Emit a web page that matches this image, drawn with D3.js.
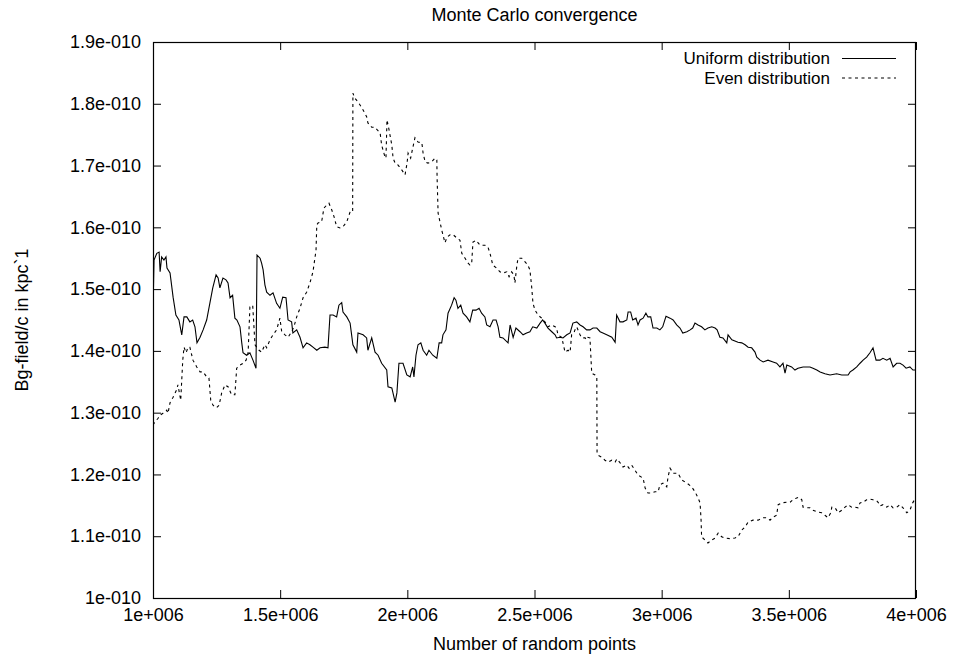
<!DOCTYPE html>
<html>
<head>
<meta charset="utf-8">
<title>Monte Carlo convergence</title>
<script src="https://cdn.jsdelivr.net/npm/d3@7/dist/d3.min.js"></script>
<style>
  html, body { margin: 0; padding: 0; background: #fff; }
  svg { display: block; }
  text { font-family: "Liberation Sans", Arial, Helvetica, sans-serif; fill: #000; }
</style>
</head>
<body>
<svg id="chart" width="956" height="657"></svg>
<script>
// Sample counts are in millions of random points, field values in units of 1e-10.
const X_UNIT = 1e6;
const Y_UNIT = 1e-10;

const seriesNames = ["Uniform distribution", "Even distribution"];

const uniformX = [1.000,1.004,1.015,1.024,1.028,1.034,1.043,1.051,1.055,1.067,1.079,1.090,1.102,1.113,1.122,1.133,1.145,1.156,1.165,1.173,1.185,1.197,1.211,1.224,1.235,1.248,1.256,1.263,1.275,1.287,1.295,1.303,1.313,1.322,1.330,1.342,1.349,1.354,1.368,1.381,1.393,1.405,1.409,1.421,1.427,1.433,1.440,1.447,1.460,1.472,1.486,1.499,1.510,1.523,1.531,1.545,1.550,1.565,1.578,1.590,1.604,1.617,1.629,1.644,1.657,1.676,1.688,1.696,1.708,1.722,1.731,1.742,1.747,1.762,1.775,1.786,1.801,1.806,1.826,1.840,1.845,1.860,1.873,1.885,1.899,1.919,1.924,1.939,1.952,1.959,1.967,1.983,1.998,2.011,2.021,2.026,2.034,2.042,2.053,2.062,2.076,2.085,2.100,2.116,2.125,2.135,2.140,2.152,2.160,2.174,2.184,2.191,2.199,2.210,2.219,2.233,2.246,2.257,2.270,2.282,2.292,2.305,2.312,2.325,2.337,2.349,2.357,2.364,2.376,2.396,2.404,2.416,2.427,2.443,2.455,2.469,2.482,2.493,2.509,2.522,2.532,2.541,2.553,2.568,2.581,2.587,2.600,2.612,2.627,2.640,2.651,2.666,2.679,2.691,2.705,2.718,2.730,2.745,2.758,2.769,2.784,2.804,2.817,2.823,2.836,2.848,2.863,2.868,2.878,2.886,2.899,2.907,2.915,2.927,2.938,2.946,2.957,2.966,2.981,2.993,3.004,3.017,3.033,3.045,3.059,3.072,3.083,3.099,3.112,3.122,3.131,3.143,3.157,3.170,3.182,3.197,3.210,3.218,3.229,3.241,3.256,3.261,3.276,3.288,3.300,3.315,3.328,3.340,3.354,3.367,3.374,3.387,3.399,3.418,3.438,3.452,3.465,3.477,3.485,3.492,3.511,3.524,3.536,3.556,3.583,3.595,3.610,3.623,3.642,3.662,3.688,3.708,3.733,3.741,3.752,3.767,3.780,3.792,3.806,3.819,3.831,3.843,3.858,3.870,3.885,3.898,3.910,3.924,3.937,3.949,3.961,3.976,3.988,4.000];
const uniformY = [1.463,1.547,1.558,1.560,1.528,1.552,1.547,1.552,1.534,1.526,1.487,1.458,1.450,1.426,1.455,1.455,1.447,1.450,1.439,1.413,1.422,1.434,1.450,1.478,1.502,1.523,1.518,1.502,1.518,1.515,1.510,1.486,1.490,1.453,1.450,1.439,1.413,1.397,1.393,1.397,1.385,1.372,1.555,1.550,1.542,1.531,1.507,1.495,1.490,1.494,1.477,1.469,1.487,1.486,1.450,1.447,1.429,1.434,1.422,1.405,1.413,1.410,1.406,1.401,1.405,1.406,1.405,1.458,1.458,1.455,1.474,1.478,1.463,1.455,1.445,1.410,1.398,1.429,1.426,1.421,1.401,1.421,1.398,1.393,1.380,1.369,1.342,1.340,1.317,1.332,1.380,1.380,1.361,1.358,1.374,1.358,1.393,1.410,1.413,1.401,1.393,1.401,1.393,1.388,1.413,1.413,1.426,1.434,1.461,1.474,1.486,1.482,1.469,1.474,1.461,1.455,1.447,1.466,1.466,1.469,1.461,1.455,1.442,1.439,1.450,1.450,1.439,1.422,1.421,1.413,1.442,1.422,1.437,1.431,1.426,1.429,1.431,1.439,1.437,1.445,1.450,1.445,1.437,1.431,1.426,1.421,1.422,1.421,1.426,1.429,1.445,1.447,1.442,1.439,1.434,1.434,1.437,1.437,1.431,1.429,1.426,1.422,1.414,1.458,1.447,1.447,1.450,1.463,1.463,1.450,1.453,1.442,1.450,1.453,1.461,1.455,1.455,1.437,1.437,1.434,1.439,1.456,1.453,1.450,1.442,1.437,1.429,1.431,1.434,1.437,1.445,1.442,1.439,1.434,1.437,1.439,1.437,1.434,1.422,1.421,1.413,1.426,1.418,1.416,1.414,1.413,1.410,1.406,1.405,1.398,1.390,1.385,1.382,1.385,1.382,1.380,1.374,1.380,1.364,1.377,1.374,1.369,1.372,1.374,1.374,1.372,1.369,1.366,1.363,1.361,1.363,1.361,1.361,1.366,1.369,1.374,1.380,1.385,1.390,1.397,1.405,1.385,1.385,1.388,1.385,1.388,1.374,1.380,1.380,1.377,1.372,1.374,1.369,1.369];

const evenX = [1.000,1.008,1.020,1.028,1.039,1.054,1.059,1.067,1.079,1.093,1.098,1.109,1.117,1.122,1.130,1.138,1.145,1.157,1.172,1.185,1.197,1.211,1.220,1.227,1.236,1.250,1.260,1.270,1.283,1.295,1.309,1.322,1.329,1.342,1.354,1.366,1.374,1.381,1.392,1.401,1.408,1.417,1.427,1.440,1.447,1.460,1.472,1.486,1.499,1.506,1.519,1.531,1.545,1.554,1.565,1.578,1.590,1.604,1.617,1.629,1.641,1.644,1.649,1.663,1.672,1.683,1.692,1.703,1.712,1.722,1.735,1.747,1.762,1.775,1.785,1.786,1.794,1.806,1.814,1.826,1.840,1.845,1.860,1.873,1.881,1.893,1.899,1.912,1.916,1.920,1.928,1.939,1.944,1.952,1.963,1.978,1.991,1.999,2.003,2.013,2.021,2.030,2.042,2.057,2.062,2.070,2.081,2.096,2.109,2.116,2.117,2.121,2.135,2.148,2.156,2.168,2.180,2.194,2.207,2.214,2.227,2.239,2.246,2.253,2.258,2.270,2.286,2.305,2.317,2.325,2.336,2.351,2.364,2.376,2.391,2.400,2.410,2.419,2.423,2.430,2.435,2.450,2.463,2.474,2.482,2.489,2.494,2.502,2.514,2.528,2.541,2.553,2.568,2.581,2.587,2.592,2.607,2.612,2.620,2.632,2.640,2.646,2.655,2.659,2.666,2.679,2.686,2.699,2.705,2.710,2.718,2.725,2.738,2.745,2.746,2.750,2.764,2.777,2.789,2.804,2.817,2.824,2.836,2.848,2.863,2.872,2.882,2.895,2.907,2.927,2.935,2.946,2.961,2.974,2.986,2.993,3.005,3.020,3.025,3.033,3.045,3.064,3.079,3.099,3.118,3.131,3.143,3.151,3.155,3.157,3.170,3.182,3.197,3.210,3.222,3.236,3.249,3.269,3.288,3.300,3.315,3.328,3.340,3.359,3.379,3.399,3.413,3.426,3.438,3.452,3.458,3.472,3.492,3.505,3.516,3.531,3.540,3.551,3.556,3.570,3.583,3.595,3.614,3.629,3.642,3.654,3.665,3.669,3.682,3.694,3.708,3.721,3.733,3.747,3.760,3.772,3.780,3.792,3.806,3.819,3.831,3.846,3.851,3.858,3.870,3.885,3.898,3.910,3.924,3.937,3.949,3.964,3.976,3.987,4.000];
const evenY = [1.280,1.285,1.291,1.296,1.299,1.304,1.299,1.316,1.325,1.337,1.345,1.320,1.385,1.406,1.397,1.406,1.406,1.385,1.374,1.366,1.366,1.358,1.356,1.320,1.312,1.308,1.312,1.332,1.345,1.342,1.329,1.329,1.372,1.377,1.380,1.385,1.397,1.471,1.474,1.410,1.406,1.401,1.398,1.410,1.405,1.418,1.426,1.434,1.453,1.431,1.426,1.422,1.431,1.439,1.455,1.469,1.486,1.495,1.510,1.528,1.563,1.604,1.607,1.609,1.631,1.636,1.639,1.628,1.617,1.601,1.599,1.601,1.609,1.625,1.625,1.817,1.809,1.803,1.798,1.790,1.779,1.769,1.762,1.762,1.758,1.753,1.733,1.714,1.712,1.774,1.758,1.733,1.712,1.704,1.701,1.693,1.685,1.704,1.720,1.712,1.728,1.745,1.738,1.737,1.720,1.706,1.704,1.706,1.712,1.709,1.681,1.623,1.596,1.575,1.584,1.588,1.588,1.583,1.579,1.558,1.550,1.542,1.539,1.542,1.576,1.579,1.571,1.571,1.568,1.558,1.539,1.534,1.528,1.526,1.528,1.520,1.528,1.523,1.510,1.536,1.550,1.550,1.544,1.539,1.531,1.503,1.477,1.466,1.458,1.453,1.447,1.439,1.442,1.439,1.437,1.426,1.422,1.413,1.398,1.401,1.398,1.426,1.429,1.434,1.439,1.426,1.421,1.421,1.418,1.422,1.421,1.364,1.361,1.358,1.235,1.231,1.228,1.223,1.220,1.223,1.220,1.225,1.219,1.212,1.215,1.210,1.215,1.207,1.199,1.194,1.178,1.170,1.170,1.172,1.172,1.183,1.186,1.180,1.196,1.210,1.202,1.202,1.191,1.186,1.180,1.172,1.162,1.154,1.126,1.099,1.094,1.089,1.094,1.097,1.105,1.099,1.097,1.096,1.097,1.099,1.110,1.115,1.123,1.126,1.126,1.130,1.130,1.126,1.131,1.134,1.151,1.154,1.155,1.155,1.159,1.162,1.163,1.159,1.147,1.146,1.146,1.142,1.139,1.138,1.134,1.130,1.138,1.147,1.146,1.138,1.142,1.147,1.151,1.147,1.147,1.146,1.154,1.155,1.159,1.160,1.159,1.157,1.155,1.149,1.151,1.147,1.151,1.146,1.147,1.151,1.146,1.138,1.142,1.154,1.163];

const xTicks = [1e6, 1.5e6, 2e6, 2.5e6, 3e6, 3.5e6, 4e6];
const yTicks = [1.0e-10, 1.1e-10, 1.2e-10, 1.3e-10, 1.4e-10, 1.5e-10, 1.6e-10, 1.7e-10, 1.8e-10, 1.9e-10];

const titleText = "Monte Carlo convergence";
const xLabel = "Number of random points";
const yLabel = "Bg-field/c in kpc`1";

// printf("%g")-style numbers with a three-digit exponent, e.g. 1.5e+006
function fmtG(v) {
  if (v === 0) return "0";
  const e = Math.floor(Math.log10(Math.abs(v)) + 1e-9);
  const m = +(v / Math.pow(10, e)).toPrecision(6);
  const sign = e < 0 ? "-" : "+";
  return `${m}e${sign}${String(Math.abs(e)).padStart(3, "0")}`;
}

const margin = { left: 153, right: 40, top: 42, bottom: 59 };
const W = 956, H = 657;
const plotR = W - margin.right, plotB = H - margin.bottom;

const x = d3.scaleLinear().domain([1e6, 4e6]).range([margin.left, plotR]);
const y = d3.scaleLinear().domain([1.0e-10, 1.9e-10]).range([plotB, margin.top]);

const svg = d3.select("#chart");
const fontSize = 18;
const tickLen = 8;

// Inward ticks on all four sides, labels only on bottom and left
function styleAxis(g) {
  g.select(".domain").remove();
  g.selectAll(".tick line").attr("stroke", "#000").attr("stroke-width", 1);
  g.selectAll(".tick text").attr("font-size", fontSize)
    .attr("font-family", "'Liberation Sans', Arial, sans-serif").attr("fill", "#000");
}

svg.append("g")
  .attr("transform", `translate(0,${plotB})`)
  .call(d3.axisBottom(x).tickValues(xTicks).tickFormat(fmtG)
        .tickSizeInner(-tickLen).tickSizeOuter(0).tickPadding(10))
  .call(styleAxis)
  .call(g => g.selectAll(".tick text").attr("dy", "0.71em"));

svg.append("g")
  .attr("transform", `translate(0,${margin.top})`)
  .call(d3.axisTop(x).tickValues(xTicks).tickFormat("")
        .tickSizeInner(-tickLen).tickSizeOuter(0))
  .call(styleAxis);

svg.append("g")
  .attr("transform", `translate(${margin.left},0)`)
  .call(d3.axisLeft(y).tickValues(yTicks).tickFormat(fmtG)
        .tickSizeInner(-tickLen).tickSizeOuter(0).tickPadding(12))
  .call(styleAxis);

svg.append("g")
  .attr("transform", `translate(${plotR},0)`)
  .call(d3.axisRight(y).tickValues(yTicks).tickFormat("")
        .tickSizeInner(-tickLen).tickSizeOuter(0))
  .call(styleAxis);

// Data lines
const line = d3.line()
  .x(d => x(d[0] * X_UNIT))
  .y(d => y(d[1] * Y_UNIT));

const uniformData = uniformX.map((v, i) => [v, uniformY[i]]);
const evenData = evenX.map((v, i) => [v, evenY[i]]);

svg.append("clipPath").attr("id", "plotclip")
  .append("rect")
  .attr("x", margin.left).attr("y", margin.top)
  .attr("width", plotR - margin.left).attr("height", plotB - margin.top);

const plot = svg.append("g").attr("clip-path", "url(#plotclip)");

plot.append("path")
  .datum(uniformData)
  .attr("d", line)
  .attr("fill", "none")
  .attr("stroke", "#000")
  .attr("stroke-width", 1.1);

plot.append("path")
  .datum(evenData)
  .attr("d", line)
  .attr("fill", "none")
  .attr("stroke", "#000")
  .attr("stroke-width", 1.1)
  .attr("stroke-dasharray", "3,3.5");

// Plot frame
svg.append("rect")
  .attr("x", margin.left + 0.5).attr("y", margin.top + 0.5)
  .attr("width", plotR - margin.left - 1).attr("height", plotB - margin.top)
  .attr("fill", "none").attr("stroke", "#000").attr("stroke-width", 1.2);

// Legend (top right, text right-aligned before its line sample)
const legend = svg.append("g");
const legendDash = [null, "3,3.5"];
const legendFont = 17;
seriesNames.forEach((name, i) => {
  const cy = 58 + i * 19.5;
  legend.append("text")
    .attr("x", 830).attr("y", cy)
    .attr("dy", "0.36em")
    .attr("text-anchor", "end")
    .attr("font-size", legendFont)
    .text(name);
  legend.append("line")
    .attr("x1", 842).attr("x2", 896)
    .attr("y1", cy + 0.5).attr("y2", cy + 0.5)
    .attr("stroke", "#000").attr("stroke-width", 1.1)
    .attr("stroke-dasharray", legendDash[i]);
});

// Title and axis labels
const midX = (margin.left + plotR) / 2;
svg.append("text")
  .attr("x", midX).attr("y", 21)
  .attr("text-anchor", "middle")
  .attr("font-size", fontSize)
  .text(titleText);

svg.append("text")
  .attr("x", midX).attr("y", 650)
  .attr("text-anchor", "middle")
  .attr("font-size", fontSize)
  .text(xLabel);

svg.append("text")
  .attr("transform", `translate(28,${(margin.top + plotB) / 2}) rotate(-90)`)
  .attr("text-anchor", "middle")
  .attr("font-size", fontSize)
  .text(yLabel);
</script>
</body>
</html>
